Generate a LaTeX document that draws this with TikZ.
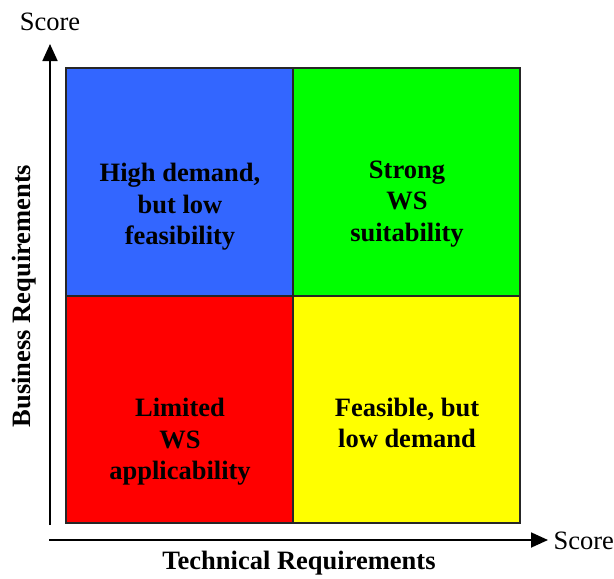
\documentclass[tikz,border=0pt]{standalone}
\usepackage{fontspec}
\setmainfont{Liberation Serif}
\usetikzlibrary{arrows.meta}
\definecolor{qblue}{RGB}{51,102,255}
\definecolor{qgreen}{RGB}{0,255,0}
\definecolor{qred}{RGB}{255,0,0}
\definecolor{qyellow}{RGB}{255,255,0}
\begin{document}
\begin{tikzpicture}[x=1pt,y=-1pt,
  quad/.style={draw=black!85,line width=2.2pt},
  qtext/.style={font=\fontsize{26.5}{31.5}\selectfont\bfseries,align=center},
  axis/.style={line width=1.8pt,-{Triangle[length=17pt,width=15pt]}},
  lbl/.style={font=\fontsize{26.5}{30}\selectfont}]
\useasboundingbox (0,0) rectangle (614,579);
\fill[qblue] (66,68) rectangle (293,296);
\fill[qgreen] (293,68) rectangle (520,296);
\fill[qred] (66,296) rectangle (293,523);
\fill[qyellow] (293,296) rectangle (520,523);
\draw[quad] (66,68) rectangle (520,523);
\draw[quad] (293,68) -- (293,523);
\draw[quad] (66,296) -- (520,296);
\node[qtext] (tl) at (180,207) {High demand,\\but low\\feasibility};
\node[qtext] (tr) at (407,204) {Strong\\WS\\suitability};
\node[qtext] (bl) at (180,442) {Limited\\WS\\applicability};
\node[qtext] (br) at (407,423) {Feasible, but\\low demand};
\coordinate (o1) at (50,525);
\coordinate (ytip) at (50,44);
\coordinate (o2) at (49,540);
\coordinate (xtip) at (548,540);
\draw[axis] (o1) -- (ytip);
\draw[axis] (o2) -- (xtip);
\node[lbl] (ys) at (50,22) {Score};
\node[lbl,anchor=west] (xs) at (550,541) {Score};
\node[qtext,rotate=90] (yl) at (24,296) {Business Requirements};
\node[qtext] (xl) at (299,563) {Technical Requirements};
\end{tikzpicture}
\end{document}
